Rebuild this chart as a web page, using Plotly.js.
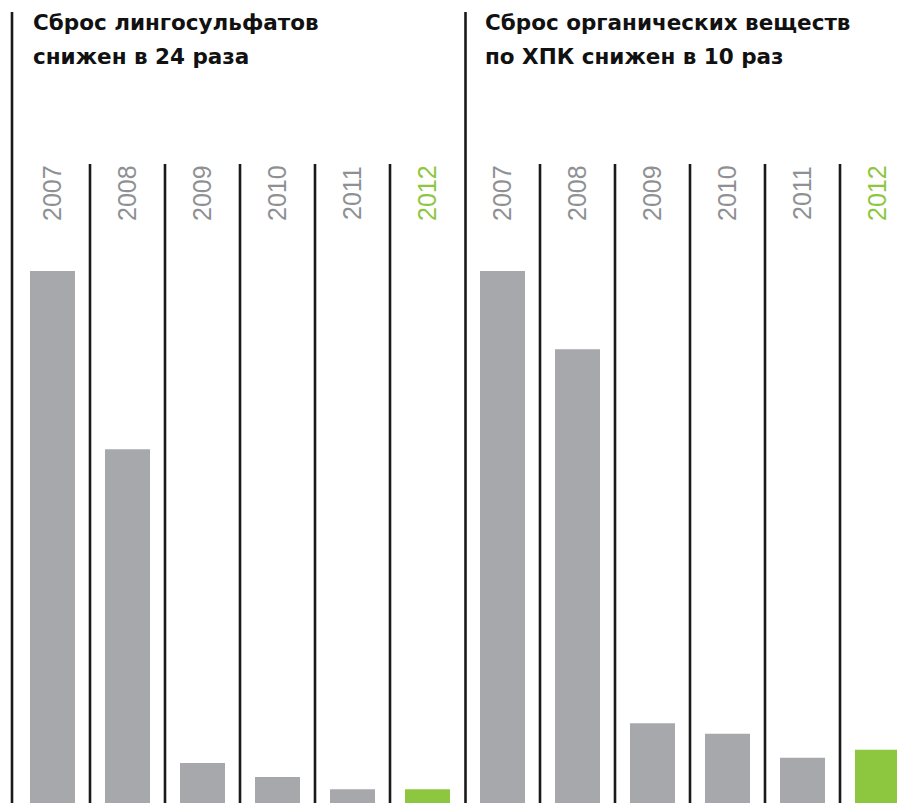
<!DOCTYPE html>
<html>
<head>
<meta charset="utf-8">
<script src="https://cdn.plot.ly/plotly-3.0.1.min.js"></script>
<style>html,body{margin:0;padding:0;background:#fff;}#chart{width:897px;height:803px;}</style>
</head>
<body>
<div id="chart"></div>
<script>
// Data (index, 2007 = 100)
const years = ["2007", "2008", "2009", "2010", "2011", "2012"];
const lignosulfonates = [100, 66.5, 7.5, 4.9, 2.6, 2.6];
const organicCOD = [100, 85.3, 15.0, 13.0, 8.5, 10.0];
const titleLeft = ["Сброс лингосульфатов", "снижен в 24 раза"];
const titleRight = ["Сброс органических веществ", "по ХПК снижен в 10 раз"];

const W = 897, H = 803;
const GRAY = "#a7a8ab", GREEN = "#8dc63f", LABEL_GRAY = "#8e9093", LINE = "#1a1a1a";
const barColors = years.map((y, i) => i === years.length - 1 ? GREEN : GRAY);
const labelColors = years.map((y, i) => i === years.length - 1 ? GREEN : LABEL_GRAY);

const colW = 75;
const leftStart = 15, leftEnd = 465;
const rightStart = 465;
const yMax = 100 * H / 532;

const traces = [
  {type: "bar", x: years, y: lignosulfonates, xaxis: "x", yaxis: "y",
   marker: {color: barColors, line: {width: 0}}, width: 0.6, hoverinfo: "x+y"},
  {type: "bar", x: years, y: organicCOD, xaxis: "x2", yaxis: "y",
   marker: {color: barColors, line: {width: 0}}, width: 0.6, hoverinfo: "x+y"}
];

const shapes = [];
const sepTop = 1 - 164 / H;
const mainTop = 1 - 12 / H;
// panel main lines
shapes.push({type: "line", xref: "paper", yref: "paper", x0: 12 / W, x1: 12 / W, y0: 0, y1: mainTop, line: {color: LINE, width: 2.6}});
shapes.push({type: "line", xref: "paper", yref: "paper", x0: 465.5 / W, x1: 465.5 / W, y0: 0, y1: mainTop, line: {color: LINE, width: 2.6}});
// column separators
for (let i = 0; i < years.length - 1; i++) {
  ["x", "x2"].forEach(ax => {
    shapes.push({type: "line", xref: ax, yref: "paper", x0: i + 0.5, x1: i + 0.5, y0: 0, y1: sepTop, line: {color: LINE, width: 2.6}});
  });
}

const annotations = [];
years.forEach((yr, i) => {
  ["x", "x2"].forEach(ax => {
    annotations.push({xref: ax, yref: "paper", x: i, y: 1 - 193.5 / H, text: yr, showarrow: false,
      textangle: -90, xanchor: "center", yanchor: "middle",
      font: {family: "'Liberation Sans', Arial, sans-serif", size: 25, color: labelColors[i]}});
  });
});
function addTitle(lines, xPx) {
  const ys = [22, 56];
  lines.forEach((t, k) => {
    annotations.push({xref: "paper", yref: "paper", x: xPx / W, y: 1 - ys[k] / H, text: "<b>" + t + "</b>",
      showarrow: false, xanchor: "left", yanchor: "middle",
      font: {family: "'DejaVu Sans', sans-serif", size: 21.5, color: "#111"}});
  });
}
addTitle(titleLeft, 31);
addTitle(titleRight, 483);

const layout = {
  width: W, height: H,
  margin: {l: 0, r: 0, t: 0, b: 0, pad: 0},
  paper_bgcolor: "#fff", plot_bgcolor: "#fff",
  showlegend: false,
  xaxis: {domain: [leftStart / W, leftEnd / W], range: [-0.5, 5.5], type: "category",
    showgrid: false, zeroline: false, showline: false, showticklabels: false, ticks: ""},
  xaxis2: {domain: [rightStart / W, 1], range: [-0.5, -0.5 + (W - rightStart) / colW], type: "category",
    showgrid: false, zeroline: false, showline: false, showticklabels: false, ticks: "", anchor: "y"},
  yaxis: {domain: [0, 1], range: [0, yMax], showgrid: false, zeroline: false, showline: false,
    showticklabels: false, ticks: ""},
  shapes: shapes,
  annotations: annotations
};

Plotly.newPlot("chart", traces, layout, {displayModeBar: false, staticPlot: true});
</script>
</body>
</html>
